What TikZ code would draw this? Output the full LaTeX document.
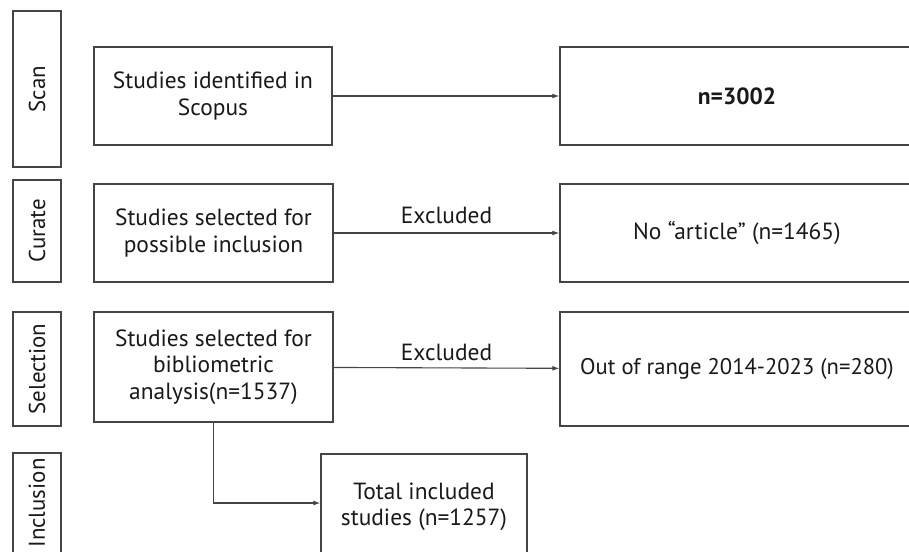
\documentclass[tikz,border=0pt]{standalone}
\usepackage{fontspec}
\setmainfont{PT Sans}
\usetikzlibrary{arrows.meta}
\definecolor{edge}{HTML}{454545}
\begin{document}
\begin{tikzpicture}[x=1bp,y=-1bp,
  box/.style={draw=edge,line width=1.3bp,align=center,inner sep=0pt,font=\fontsize{23.5}{26.5}\selectfont,text=black!90},
  lab/.style={draw=edge,line width=1.3bp,inner sep=0pt},
  labtext/.style={rotate=90,font=\fontsize{23}{26}\selectfont,text=black!90},
  conn/.style={draw=edge,line width=1.1bp,-{Latex[length=7bp,width=5bp]}},
  exl/.style={font=\fontsize{23.5}{26}\selectfont,text=black!90}]
\useasboundingbox (0,0) rectangle (909,552);
\clip (0,0) rectangle (909,552);
% phase labels
\node[lab,minimum width=48bp,minimum height=156bp] (lscan) at (37,89) {};
\node[labtext] (tscan) at (lscan.center) {Scan};
\node[lab,minimum width=48bp,minimum height=102bp] (lcur) at (37,231) {};
\node[labtext] (tcur) at (lcur.center) {Curate};
\node[lab,minimum width=48bp,minimum height=114bp] (lsel) at (37,369) {};
\node[labtext] (tsel) at (lsel.center) {Selection};
\node[lab,minimum width=48bp,minimum height=148bp] (linc) at (37,527) {};
\node[labtext] (tinc) at (37,503) {Inclusion};
% boxes
\node[box,minimum width=238bp,minimum height=98bp] (b1) at (213,96) {Studies identified in\\Scopus};
\node[box,minimum width=354bp,minimum height=98bp,font=\fontsize{23.5}{26.5}\selectfont\bfseries] (b2) at (737,96) {n=3002};
\node[box,minimum width=239bp,minimum height=98bp] (b3) at (213.5,233) {Studies selected for\\possible inclusion};
\node[box,minimum width=354bp,minimum height=98bp] (b4) at (737,233) {No “article” (n=1465)};
\node[box,minimum width=239bp,minimum height=110bp] (b5) at (213.5,367) {Studies selected for\\bibliometric\\analysis(n=1537)};
\node[box,minimum width=354bp,minimum height=114bp,font=\fontsize{22.7}{26.5}\selectfont] (b6) at (737,369) {Out of range 2014-2023 (n=280)};
\node[box,minimum width=206bp,minimum height=106bp] (b7) at (424,507) {Total included\\studies (n=1257)};
% connectors
\draw[conn] (b1) -- (b2);
\draw[conn] (b3) -- node[exl,above=5bp]{Excluded} (b4);
\draw[conn] (b5) -- node[exl,above=3bp]{Excluded} (b6);
\draw[conn] (b5.south) |- ([yshift=4bp]b7.west);
\end{tikzpicture}
\end{document}
